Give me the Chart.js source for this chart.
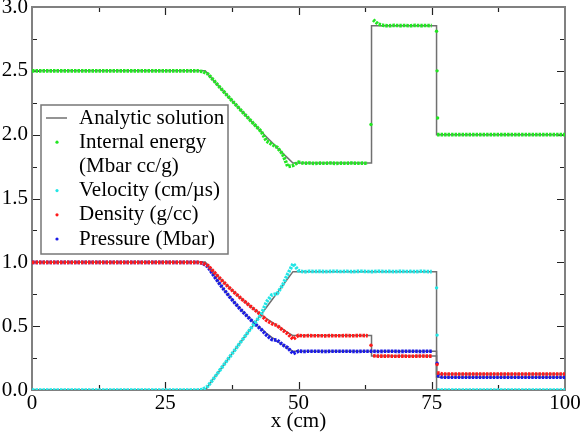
<!DOCTYPE html>
<html>

<head>
  <meta charset="utf-8" />
  <style>
    body { margin: 0; background: #fff; }
    #wrap { width: 581px; height: 434px; }
  </style>
</head>

<script src="https://cdn.jsdelivr.net/npm/chart.js"></script>

<body>
  <div id="wrap"><canvas id="shockChart"></canvas></div>

  <script>
    // simulation grid (cm)
    var xs = [0, 1, 2, 3, 4, 5, 6, 7, 8, 9, 10, 11, 12, 13, 14, 15, 16, 17, 18, 19,
      20, 21, 22, 23, 24, 25, 26, 27, 28, 29, 30, 31, 32, 33, 34, 35, 36, 37, 38, 39,
      40, 41, 42, 43, 44, 45, 46, 47, 48, 49, 50, 51, 52, 53, 54, 55, 56, 57, 58, 59,
      60, 61, 62, 63, 64, 65, 66, 67, 68, 69, 70, 71, 72, 73, 74, 75, 76, 77, 78, 79,
      80, 81, 82, 83, 84, 85, 86, 87, 88, 89, 90, 91, 92, 93, 94, 95, 96, 97, 98, 99, 100];

    var energy = [2.5, 2.5, 2.5, 2.5, 2.5, 2.5, 2.5, 2.5, 2.5, 2.5, 2.5, 2.5, 2.5, 2.5, 2.5, 2.5, 2.5, 2.5, 2.5, 2.5,
      2.5, 2.5, 2.5, 2.5, 2.5, 2.5, 2.5, 2.5, 2.5, 2.5, 2.5, 2.5, 2.495, 2.476, 2.429, 2.382, 2.336, 2.29, 2.245, 2.2,
      2.155, 2.111, 2.068, 2.025, 1.95, 1.925, 1.9, 1.85, 1.75, 1.76, 1.785, 1.776, 1.778, 1.775, 1.777, 1.776, 1.778, 1.775, 1.777, 1.776,
      1.778, 1.776, 1.777, 1.776, 2.9, 2.865, 2.855, 2.853, 2.856, 2.854, 2.855, 2.853, 2.856, 2.854, 2.855, 2.854, 2.0, 2.0, 2.0, 2.0,
      2.0, 2.0, 2.0, 2.0, 2.0, 2.0, 2.0, 2.0, 2.0, 2.0, 2.0, 2.0, 2.0, 2.0, 2.0, 2.0, 2.0, 2.0, 2.0, 2.0, 2.0];

    var velocity = [0, 0, 0, 0, 0, 0, 0, 0, 0, 0, 0, 0, 0, 0, 0, 0, 0, 0, 0, 0,
      0, 0, 0, 0, 0, 0, 0, 0, 0, 0, 0, 0, 0.003, 0.03, 0.085, 0.141, 0.198, 0.254, 0.31, 0.367,
      0.423, 0.479, 0.536, 0.592, 0.69, 0.745, 0.755, 0.82, 0.91, 0.99, 0.935, 0.925, 0.93, 0.928, 0.93, 0.927, 0.929, 0.93, 0.928, 0.93,
      0.927, 0.929, 0.93, 0.928, 0.927, 0.93, 0.928, 0.929, 0.927, 0.93, 0.928, 0.929, 0.927, 0.93, 0.928, 0.927, 0, 0, 0, 0,
      0, 0, 0, 0, 0, 0, 0, 0, 0, 0, 0, 0, 0, 0, 0, 0, 0, 0, 0, 0, 0];

    var density = [1, 1, 1, 1, 1, 1, 1, 1, 1, 1, 1, 1, 1, 1, 1, 1, 1, 1, 1, 1,
      1, 1, 1, 1, 1, 1, 1, 1, 1, 1, 1, 1, 0.995, 0.975, 0.93, 0.886, 0.843, 0.802, 0.763, 0.725,
      0.69, 0.655, 0.621, 0.588, 0.545, 0.52, 0.505, 0.47, 0.44, 0.398, 0.428, 0.424, 0.426, 0.425, 0.425, 0.424, 0.426, 0.425, 0.425, 0.426,
      0.425, 0.426, 0.427, 0.425, 0.268, 0.265, 0.265, 0.266, 0.264, 0.265, 0.265, 0.264, 0.265, 0.266, 0.265, 0.265, 0.135, 0.125, 0.125, 0.125,
      0.125, 0.125, 0.125, 0.125, 0.125, 0.125, 0.125, 0.125, 0.125, 0.125, 0.125, 0.125, 0.125, 0.125, 0.125, 0.125, 0.125, 0.125, 0.125, 0.125, 0.125];

    var pressure = [1, 1, 1, 1, 1, 1, 1, 1, 1, 1, 1, 1, 1, 1, 1, 1, 1, 1, 1, 1,
      1, 1, 1, 1, 1, 1, 1, 1, 1, 1, 1, 1, 0.995, 0.965, 0.903, 0.843, 0.787, 0.734, 0.684, 0.637,
      0.593, 0.551, 0.512, 0.475, 0.43, 0.395, 0.39, 0.355, 0.33, 0.285, 0.305, 0.302, 0.304, 0.303, 0.303, 0.302, 0.303, 0.304, 0.303, 0.303,
      0.303, 0.302, 0.304, 0.303, 0.303, 0.302, 0.303, 0.304, 0.303, 0.302, 0.303, 0.304, 0.303, 0.302, 0.303, 0.303, 0.115, 0.1, 0.1, 0.1,
      0.1, 0.1, 0.1, 0.1, 0.1, 0.1, 0.1, 0.1, 0.1, 0.1, 0.1, 0.1, 0.1, 0.1, 0.1, 0.1, 0.1, 0.1, 0.1, 0.1, 0.1];

    // isolated zones caught inside the jumps
    var energyJumpX = [63.6, 75.9, 76.0, 76.1];
    var energyJumpY = [2.08, 2.81, 2.5, 2.13];
    var velocityJumpX = [75.9, 76.0];
    var velocityJumpY = [0.8, 0.43];
    var densityJumpX = [63.6, 76.0];
    var densityJumpY = [0.35, 0.2];
    var pressureJumpX = [76.0];
    var pressureJumpY = [0.21];

    // analytic (exact Riemann) solution
    var xExact = [0, 32.5, 33, 34, 35, 36, 37, 38, 39, 40, 41, 42, 43, 44, 45, 46, 47, 48, 48.96, 63.7, 63.7, 75.9, 75.9, 100];
    var energyExact = [2.5, 2.5, 2.476, 2.429, 2.382, 2.336, 2.29, 2.245, 2.2, 2.155, 2.111, 2.068, 2.025, 1.982, 1.94, 1.898, 1.857, 1.816, 1.778, 1.778, 2.854, 2.854, 2.0, 2.0];
    var velocityExact = [0, 0, 0.029, 0.085, 0.141, 0.198, 0.254, 0.31, 0.367, 0.423, 0.479, 0.536, 0.592, 0.648, 0.705, 0.761, 0.817, 0.873, 0.927, 0.927, 0.927, 0.927, 0, 0];
    var densityExact = [1, 1, 0.976, 0.93, 0.886, 0.844, 0.803, 0.764, 0.726, 0.69, 0.655, 0.622, 0.59, 0.56, 0.531, 0.502, 0.476, 0.45, 0.426, 0.426, 0.266, 0.266, 0.125, 0.125];
    var pressureExact = [1, 1, 0.966, 0.904, 0.844, 0.788, 0.736, 0.686, 0.639, 0.595, 0.554, 0.515, 0.478, 0.444, 0.412, 0.382, 0.353, 0.327, 0.303, 0.303, 0.303, 0.303, 0.1, 0.1];

    var xTicks = [0, 25, 50, 75, 100];
    var yTicks = [0, 0.5, 1.0, 1.5, 2.0, 2.5, 3.0];

    var legendLabels = ['Analytic solution', 'Internal energy', '(Mbar cc/g)', 'Velocity (cm/\u00b5s)', 'Density (g/cc)', 'Pressure (Mbar)'];
    var legendColors = ['#707070', '#22e622', null, '#22e6e6', '#ff1a1a', '#1a1ae6'];

    var GREEN = '#22e622', CYAN = '#22e6e6', RED = '#ff1a1a', BLUE = '#1a1ae6', GRAY = '#707070';
    var SERIF = '"Liberation Serif", "DejaVu Serif", serif';

    function pts(xv, yv) {
      return xv.map(function (x, i) { return { x: x, y: yv[i] }; });
    }

    function simSet(yv, color) {
      return {
        data: pts(xs, yv),
        borderColor: color,
        borderWidth: 3.6,
        borderDash: [2.5, 1],
        pointRadius: 0,
        segment: {
          // no line across the discontinuities
          borderColor: function (c) {
            return Math.abs(c.p1.parsed.y - c.p0.parsed.y) > 0.12 ? 'rgba(0,0,0,0)' : undefined;
          }
        }
      };
    }

    function jumpSet(xv, yv, color) {
      return {
        data: pts(xv, yv),
        showLine: false,
        pointRadius: 1.7,
        pointBorderWidth: 0,
        pointBackgroundColor: color,
        borderColor: color
      };
    }

    function exactSet(yv) {
      return {
        data: pts(xExact, yv),
        borderColor: GRAY,
        borderWidth: 1.5,
        pointRadius: 0
      };
    }

    // frame + inward tick marks on all four sides
    var framePlugin = {
      id: 'frame',
      beforeDatasetsDraw: function (chart) {
        var ctx = chart.ctx, a = chart.chartArea;
        var sx = chart.scales.x, sy = chart.scales.y;
        ctx.save();
        ctx.strokeStyle = '#222';
        ctx.lineWidth = 1.2;
        for (var v = 12.5; v < 100; v += 12.5) {
          var px = Math.round(sx.getPixelForValue(v)) + 0.5;
          var len = (v % 25 === 0) ? 8 : 5;
          ctx.beginPath();
          ctx.moveTo(px, a.bottom); ctx.lineTo(px, a.bottom - len);
          ctx.moveTo(px, a.top); ctx.lineTo(px, a.top + len);
          ctx.stroke();
        }
        for (var w = 0.25; w < 3; w += 0.25) {
          var py = Math.round(sy.getPixelForValue(w)) + 0.5;
          var l2 = (Math.abs(w * 2 - Math.round(w * 2)) < 1e-6) ? 8 : 5;
          ctx.beginPath();
          ctx.moveTo(a.left, py); ctx.lineTo(a.left + l2, py);
          ctx.moveTo(a.right, py); ctx.lineTo(a.right - l2, py);
          ctx.stroke();
        }
        ctx.strokeStyle = '#808080';
        ctx.lineWidth = 2;
        ctx.strokeRect(a.left, a.top, a.right - a.left, a.bottom - a.top);
        ctx.restore();
      }
    };

    var legendPlugin = {
      id: 'boxLegend',
      afterDraw: function (chart) {
        var ctx = chart.ctx, a = chart.chartArea;
        var x0 = a.left + 9, y0 = a.top + 98, w = 187, h = 149;
        ctx.save();
        ctx.fillStyle = '#fff';
        ctx.fillRect(x0, y0, w, h);
        ctx.strokeStyle = '#777';
        ctx.lineWidth = 1.5;
        ctx.strokeRect(x0, y0, w, h);
        ctx.font = '21px ' + SERIF;
        ctx.textBaseline = 'middle';
        legendLabels.forEach(function (txt, i) {
          var y = y0 + 13 + i * 24.2;
          var col = legendColors[i];
          if (i === 0) {
            ctx.strokeStyle = col;
            ctx.lineWidth = 1.5;
            ctx.beginPath();
            ctx.moveTo(x0 + 5, y); ctx.lineTo(x0 + 26, y);
            ctx.stroke();
          } else if (col) {
            ctx.fillStyle = col;
            ctx.beginPath();
            ctx.arc(x0 + 16, y, 1.6, 0, Math.PI * 2);
            ctx.fill();
          }
          ctx.fillStyle = '#000';
          ctx.fillText(txt, x0 + 38, y);
        });
        ctx.restore();
      }
    };

    var ctx = document.getElementById('shockChart');
    new Chart(ctx, {
      type: 'line',
      data: {
        datasets: [
          jumpSet(energyJumpX, energyJumpY, GREEN),
          jumpSet(velocityJumpX, velocityJumpY, CYAN),
          jumpSet(densityJumpX, densityJumpY, RED),
          jumpSet(pressureJumpX, pressureJumpY, BLUE),
          simSet(energy, GREEN),
          simSet(velocity, CYAN),
          simSet(density, RED),
          simSet(pressure, BLUE),
          exactSet(energyExact),
          exactSet(velocityExact),
          exactSet(densityExact),
          exactSet(pressureExact)
        ]
      },
      options: {
        responsive: true,
        maintainAspectRatio: false,
        animation: false,
        layout: { padding: { top: 7, right: 16, left: 0, bottom: 0 } },
        plugins: {
          legend: { display: false },
          tooltip: { enabled: false }
        },
        scales: {
          x: {
            type: 'linear',
            min: 0,
            max: 100,
            grid: { display: false, drawTicks: false },
            border: { display: false },
            afterBuildTicks: function (s) { s.ticks = xTicks.map(function (v) { return { value: v }; }); },
            afterFit: function (s) { s.height = 44; s.paddingLeft = 0; s.paddingRight = 0; },
            ticks: {
              padding: 1,
              color: '#000',
              maxRotation: 0,
              autoSkip: false,
              font: { family: SERIF, size: 21 }
            },
            title: {
              display: true,
              text: 'x (cm)',
              color: '#000',
              padding: { top: 0, bottom: 0 },
              font: { family: SERIF, size: 21 }
            }
          },
          y: {
            min: 0,
            max: 3,
            grid: { display: false, drawTicks: false },
            border: { display: false },
            afterBuildTicks: function (s) { s.ticks = yTicks.map(function (v) { return { value: v }; }); },
            afterFit: function (s) { s.width = 32; s.paddingTop = 0; s.paddingBottom = 0; },
            ticks: {
              padding: 4,
              color: '#000',
              font: { family: SERIF, size: 21 },
              callback: function (v) { return Number(v).toFixed(1); }
            }
          }
        }
      },
      plugins: [framePlugin, legendPlugin]
    });
  </script>
</body>

</html>
